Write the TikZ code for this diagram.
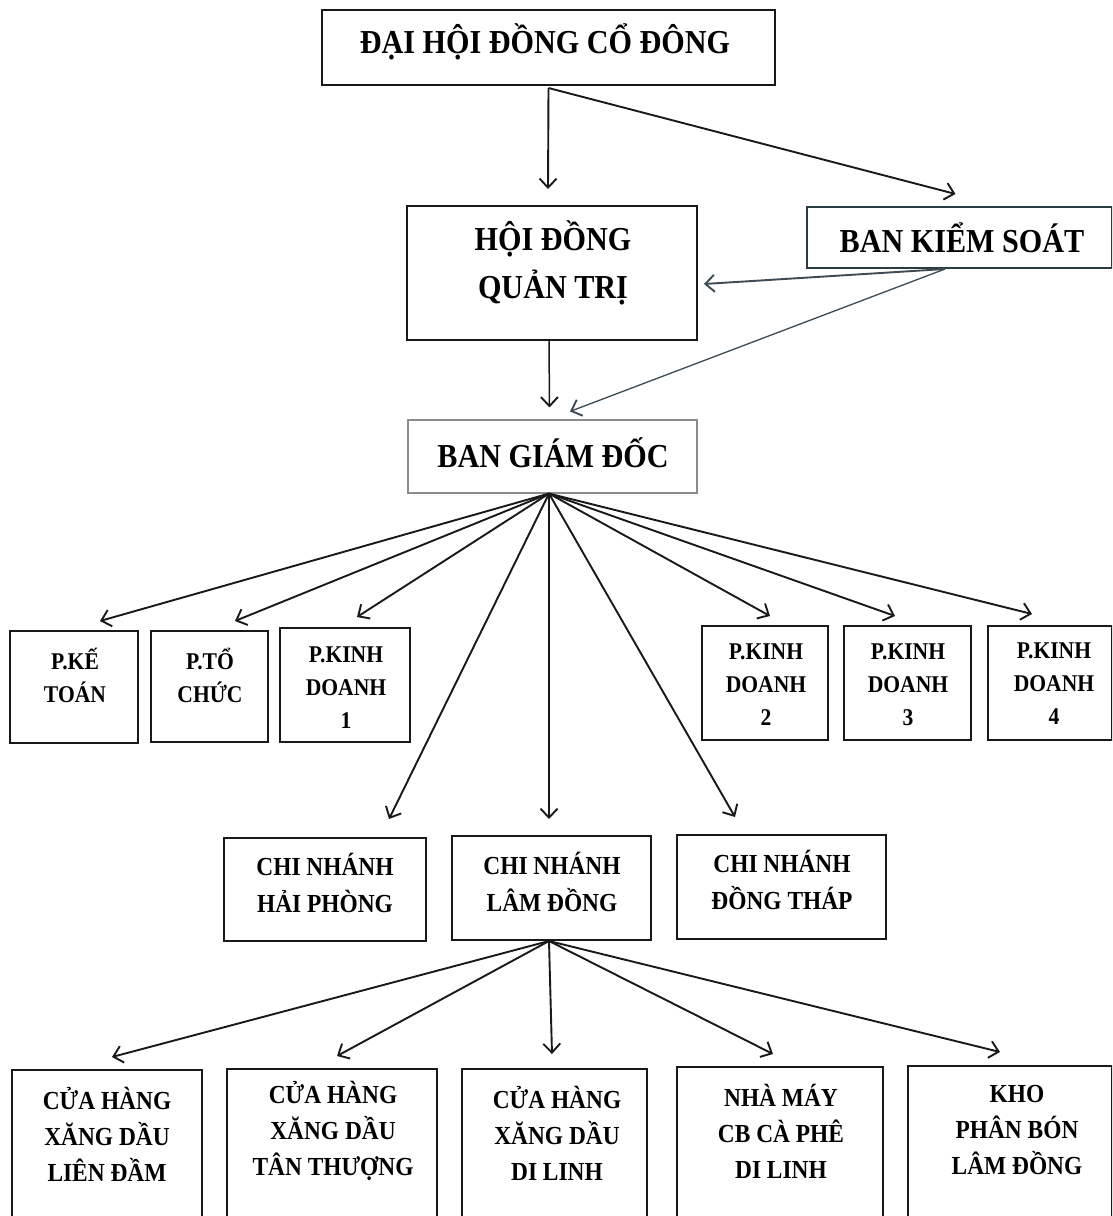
\documentclass[tikz,border=0pt]{standalone}
\usepackage{fontspec}
\setmainfont{Liberation Serif}[FakeStretch=0.9]
\usetikzlibrary{arrows.meta}
\begin{document}
\begin{tikzpicture}[x=1pt,y=-1pt,
  box/.style={draw=black!90, line width=2pt, inner sep=0pt, fill=none},
  lbl/.style={align=center, font=\bfseries, inner sep=0pt},
  big/.style={lbl, font=\fontsize{33.5}{48}\selectfont\bfseries},
  mid/.style={lbl, font=\fontsize{26}{37}\selectfont\bfseries},
  sml/.style={lbl, font=\fontsize{24}{33}\selectfont\bfseries},
  bot/.style={lbl, font=\fontsize{26}{36}\selectfont\bfseries},
  arr/.style={-{Straight Barb[length=9pt,width=17pt,line width=1.9pt]}, line width=1.9pt, black!90},
  garr/.style={arr, draw={rgb,255:red,60;green,75;blue,85}},
]
\useasboundingbox[fill=white] (0,0) rectangle (1112,1216);
\clip (0,0) rectangle (1112,1216);

% top level
\node[box, minimum width=453pt, minimum height=75pt] (dhd) at (548.5,47.5) {};
\node[big] (tdhd) at (545,42) {ĐẠI HỘI ĐỒNG CỔ ĐÔNG};

\node[box, minimum width=290pt, minimum height=134pt] (hdqt) at (552,273) {};
\node[big] (thdqt) at (553,262.5) {HỘI ĐỒNG\\QUẢN TRỊ};

\node[box, draw={rgb,255:red,40;green,60;blue,65}, minimum width=305pt, minimum height=61pt] (bks) at (959.5,237.5) {};
\node[big] (tbks) at (962,238) {BAN KIỂM SOÁT};

\node[box, draw=black!45, line width=1.1pt, minimum width=289pt, minimum height=73pt] (bgd) at (552.5,456.5) {};
\node[big] (tbgd) at (553,453) {BAN GIÁM ĐỐC};

% departments
\node[box, minimum width=128pt, minimum height=112pt] (pkt) at (74,687) {};
\node[sml] at (75,675) {P.KẾ\\TOÁN};
\node[box, minimum width=117pt, minimum height=111pt] (ptc) at (209.5,686.5) {};
\node[sml] at (210,675) {P.TỔ\\CHỨC};
\node[box, minimum width=130pt, minimum height=114pt] (pkd1) at (345,685) {};
\node[sml] at (346,688) {P.KINH\\DOANH\\1};
\node[box, minimum width=126pt, minimum height=114pt] (pkd2) at (765,683) {};
\node[sml] at (766,685) {P.KINH\\DOANH\\2};
\node[box, minimum width=127pt, minimum height=114pt] (pkd3) at (907.5,683) {};
\node[sml] at (908,685) {P.KINH\\DOANH\\3};
\node[box, minimum width=124pt, minimum height=114pt] (pkd4) at (1050,683) {};
\node[sml] at (1054,684) {P.KINH\\DOANH\\4};

% branches
\node[box, minimum width=202pt, minimum height=103pt] (cnhp) at (325,889.5) {};
\node[mid] at (325,883) {CHI NHÁNH\\HẢI PHÒNG};
\node[box, minimum width=199pt, minimum height=104pt] (cnld) at (551.5,888) {};
\node[mid] at (552,882) {CHI NHÁNH\\LÂM ĐỒNG};
\node[box, minimum width=209pt, minimum height=104pt] (cndt) at (781.5,887) {};
\node[mid] at (782,880) {CHI NHÁNH\\ĐỒNG THÁP};

% bottom units (cut off at the page edge)
\node[box, minimum width=190pt, minimum height=200pt] (chld) at (107,1170) {};
\node[bot] at (107,1134) {CỬA HÀNG\\XĂNG DẦU\\LIÊN ĐẦM};
\node[box, minimum width=210pt, minimum height=202pt] (chtt) at (332,1170) {};
\node[bot] at (333,1131) {CỬA HÀNG\\XĂNG DẦU\\TÂN THƯỢNG};
\node[box, minimum width=185pt, minimum height=202pt] (chdl) at (554.5,1170) {};
\node[bot] at (557,1133) {CỬA HÀNG\\XĂNG DẦU\\DI LINH};
\node[box, minimum width=206pt, minimum height=206pt] (nm) at (780,1170) {};
\node[bot] at (781,1131) {NHÀ MÁY\\CB CÀ PHÊ\\DI LINH};
\node[box, minimum width=204pt, minimum height=208pt] (kho) at (1010,1170) {};
\node[bot] at (1017,1130) {KHO\\PHÂN BÓN\\LÂM ĐỒNG};

% connectors top
\draw[arr] ([yshift=-2pt]dhd.south) -- ([xshift=-4pt,yshift=16pt]hdqt.north);
\draw[arr] ([yshift=-2pt]dhd.south) -- ([xshift=-4pt,yshift=12pt]bks.north);
\draw[garr] ([xshift=-14.5pt]bks.south) -- ([xshift=6pt,yshift=-11pt]hdqt.east);
\draw[garr, line width=1.3pt] ([xshift=-14.5pt]bks.south) -- ([xshift=17.5pt,yshift=8pt]bgd.north);
\draw[arr, line width=1.5pt] ([xshift=-3pt]hdqt.south) -- ([xshift=-3pt,yshift=12pt]bgd.north);

% fan from BGD
\coordinate (o1) at ([xshift=-3.5pt]bgd.south);
\draw[arr] (o1) -- ([xshift=26pt,yshift=9pt]pkt.north);
\draw[arr] (o1) -- ([xshift=25.5pt,yshift=9pt]ptc.north);
\draw[arr] (o1) -- ([xshift=12pt,yshift=10pt]pkd1.north);
\draw[arr] (o1) -- ([xshift=5pt,yshift=9pt]pkd2.north);
\draw[arr] (o1) -- ([xshift=-12.5pt,yshift=9pt]pkd3.north);
\draw[arr] (o1) -- ([xshift=-18pt,yshift=11pt]pkd4.north);
\draw[arr] (o1) -- ([xshift=64pt,yshift=18pt]cnhp.north);
\draw[arr] (o1) -- ([xshift=-2.5pt,yshift=16pt]cnld.north);
\draw[arr] (o1) -- ([xshift=-46.5pt,yshift=17pt]cndt.north);

% fan from CN Lam Dong
\coordinate (o2) at ([xshift=-2.5pt]cnld.south);
\draw[arr] (o2) -- ([xshift=5pt,yshift=12pt]chld.north);
\draw[arr] (o2) -- ([xshift=5pt,yshift=12pt]chtt.north);
\draw[arr] (o2) -- ([xshift=-2.5pt,yshift=14pt]chdl.north);
\draw[arr] (o2) -- ([xshift=-7pt,yshift=12pt]nm.north);
\draw[arr] (o2) -- ([xshift=-10pt,yshift=13pt]kho.north);
\end{tikzpicture}
\end{document}
